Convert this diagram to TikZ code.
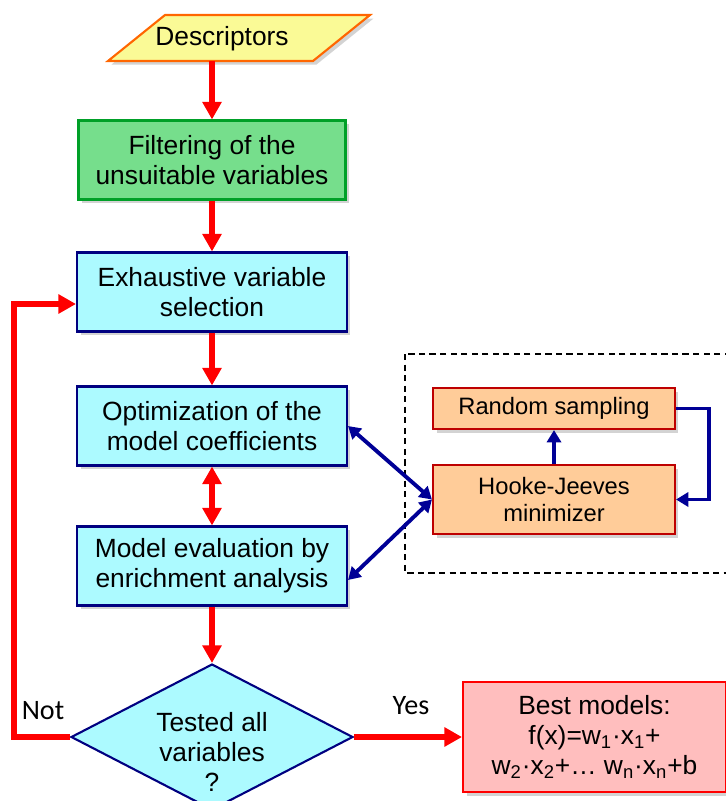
\documentclass[tikz,border=0pt]{standalone}
\usepackage{fontspec}
\setmainfont{Liberation Sans}
\newfontfamily\labelfont{Carlito}
\usetikzlibrary{positioning, shapes.geometric, arrows.meta, shadows}

\definecolor{descfill}{RGB}{250,250,150}
\definecolor{descline}{RGB}{255,102,0}
\definecolor{filterfill}{RGB}{118,222,140}
\definecolor{filterline}{RGB}{0,160,40}
\definecolor{stepfill}{RGB}{172,250,255}
\definecolor{stepline}{RGB}{0,0,128}
\definecolor{minfill}{RGB}{255,204,153}
\definecolor{minline}{RGB}{190,0,0}
\definecolor{bestfill}{RGB}{255,190,190}
\definecolor{bestline}{RGB}{255,0,0}
\definecolor{loopblue}{RGB}{0,0,150}

\begin{document}
\begin{tikzpicture}[x=0.02cm, y=-0.02cm]
    % Define styles
    \tikzstyle{shade} = [drop shadow={shadow xshift=2pt, shadow yshift=-2pt, opacity=0.35}]
    \tikzstyle{stepbox} = [draw=stepline, fill=stepfill, line width=1.2pt, align=center, font=\fontsize{15}{17}\selectfont, minimum width=5.4cm, minimum height=1.58cm, shade]
    \tikzstyle{minbox} = [draw=minline, fill=minfill, line width=1.2pt, align=center, font=\fontsize{13.5}{15}\selectfont, minimum width=4.84cm, shade]
    \tikzstyle{redarrow} = [draw=red, line width=3.3pt, -{Triangle[length=10pt, width=10.5pt]}]
    \tikzstyle{bluearrow} = [draw=loopblue, line width=2.2pt, -{Triangle[length=7pt, width=8pt]}]
    \tikzstyle{answer} = [font=\labelfont\fontsize{16}{18}\selectfont]

    \clip (0,0) rectangle (726,801);

    % Main chain
    \filldraw[draw=descline, fill=descfill, line width=1.2pt, shade] (165,15) -- (370,15) -- (313,61) -- (108,61) -- cycle;
    \node[font=\fontsize{15}{17}\selectfont] (desc) at (222,39) {Descriptors};
    \coordinate (descbot) at (212,61);
    \node[stepbox, draw=filterline, fill=filterfill, minimum width=5.34cm] (filter) at (212,160) {Filtering of the\\unsuitable variables};
    \node[stepbox] (exh) at (212,292) {Exhaustive variable\\selection};
    \node[stepbox] (opt) at (212,426) {Optimization of the\\model coefficients};
    \node[stepbox] (eval) at (212,566) {Model evaluation by\\enrichment analysis};
    \node[diamond, draw=stepline, fill=stepfill, line width=1.2pt, inner sep=0pt,
          minimum width=5.64cm, minimum height=2.92cm] (test) at (212,737) {};
    \node[align=center, font=\fontsize{15}{17}\selectfont] (testtext) at (212,752) {Tested all\\variables\\?};
    \node[stepbox, draw=bestline, fill=bestfill, minimum width=5.26cm, minimum height=2.2cm] (best) at (594.5,737)
        {Best models:\\f(x)=w\textsubscript{1}·x\textsubscript{1}+\\w\textsubscript{2}·x\textsubscript{2}+…\ w\textsubscript{n}·x\textsubscript{n}+b};

    \draw[redarrow] (descbot) -- (filter.north);
    \draw[redarrow] (filter) -- (exh);
    \draw[redarrow] (exh) -- (opt);
    \draw[redarrow, {Triangle[length=10pt, width=10.5pt]}-{Triangle[length=10pt, width=10.5pt]}] (opt) -- (eval);
    \draw[redarrow] (eval) -- (test.north);
    \draw[redarrow] (test.west) -- ++(-56,0) |- ([yshift=-0.24cm]exh.west);
    \draw[redarrow] (test.east) -- (best.west);
    \node[answer] (notlabel) at (43,711) {Not};
    \node[answer] (yeslabel) at (411,706) {Yes};

    % Minimizer block
    \draw[line width=0.8pt, dash pattern=on 3.5pt off 2.5pt] (405,354) rectangle (760,573);
    \node[minbox, minimum height=0.82cm] (rs) at (554,408.5) {Random sampling};
    \node[minbox, minimum height=1.38cm] (hj) at (554,499.5) {Hooke-Jeeves\\minimizer};
    \draw[bluearrow] (hj) -- (rs);
    \draw[bluearrow] (rs.east) -- ++(33,0) |- (hj.east);
    \draw[bluearrow, {Triangle[length=7pt, width=8pt]}-{Triangle[length=7pt, width=8pt]}] (opt.east) -- (hj.west);
    \draw[bluearrow, {Triangle[length=7pt, width=8pt]}-{Triangle[length=7pt, width=8pt]}] (hj.west) -- ([yshift=-0.28cm]eval.east);
\end{tikzpicture}
\end{document}
